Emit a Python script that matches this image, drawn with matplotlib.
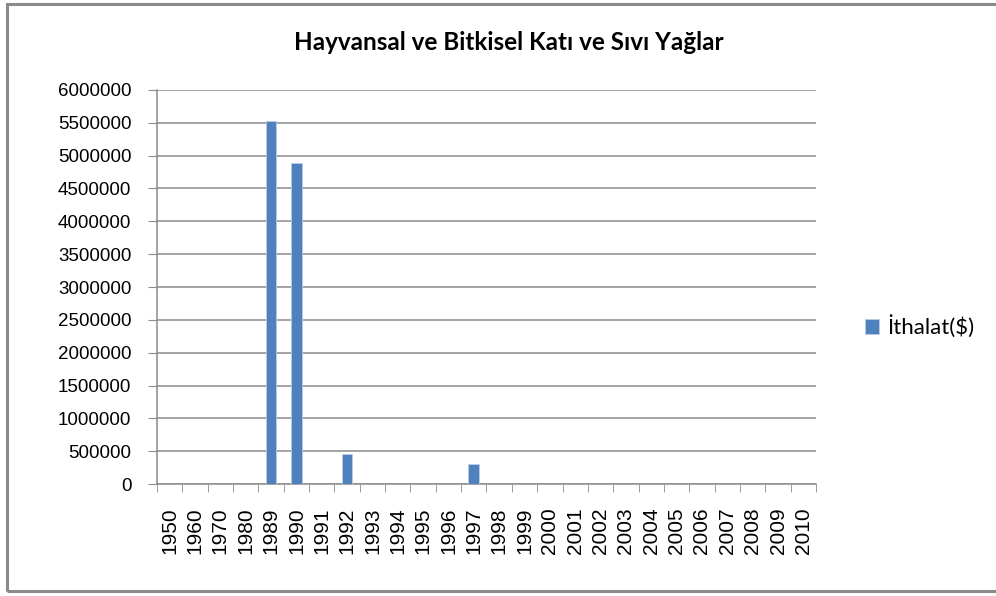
import matplotlib.pyplot as plt
from matplotlib.patches import Rectangle
import numpy as np

# Chart data
years = ["1950", "1960", "1970", "1980", "1989", "1990", "1991", "1992", "1993",
         "1994", "1995", "1996", "1997", "1998", "1999", "2000", "2001", "2002",
         "2003", "2004", "2005", "2006", "2007", "2008", "2009", "2010"]
imports = [0, 0, 0, 0, 5530000, 4890000, 0, 450000, 0,
           0, 0, 0, 300000, 0, 0, 0, 0, 0,
           0, 0, 0, 0, 0, 0, 0, 0]
y_ticks = list(range(0, 6000001, 500000))

title = "Hayvansal ve Bitkisel Katı ve Sıvı Yağlar"
series_name = "İthalat($)"

bar_color = "#4F81BD"
grid_color = "#8C8C8C"

fig = plt.figure(figsize=(9.96, 5.96), dpi=100)
ax = fig.add_axes([0.1576, 0.1879, 0.6617, 0.6611])

x = np.arange(len(years))
ax.bar(x, imports, width=0.42, color=bar_color, edgecolor="#B9CDE5",
       linewidth=0.6, label=series_name, zorder=3)

# Axes limits and ticks
ax.set_xlim(-0.5, len(years) - 0.5)
ax.set_ylim(0, 6000000)
ax.set_yticks(y_ticks)
ax.set_yticklabels([str(v) for v in y_ticks], fontfamily="Liberation Sans", fontsize=13.5)
ax.set_xticks(x)
ax.set_xticklabels(years, rotation=90, fontfamily="Liberation Sans", fontsize=15)
ax.set_xticks(np.arange(-0.5, len(years)), minor=True)
ax.tick_params(axis="x", which="major", length=0, pad=17)
ax.tick_params(axis="x", which="minor", length=6, color=grid_color, direction="out")
ax.tick_params(axis="y", length=6.5, color=grid_color, pad=12)

# Gridlines and spines
ax.yaxis.grid(True, color=grid_color, linewidth=1.1, zorder=0)
ax.set_axisbelow(True)
for side in ["top", "right"]:
    ax.spines[side].set_visible(False)
for side in ["left", "bottom"]:
    ax.spines[side].set_color(grid_color)
    ax.spines[side].set_linewidth(1.1)

# Title
fig.text(0.511, 0.928, title, ha="center", va="center",
         fontfamily="Lato", fontweight="bold", fontsize=17.5)

# Legend
fig.legend(loc="center left", bbox_to_anchor=(0.848, 0.452), frameon=False,
           handlelength=0.65, handleheight=0.65, handletextpad=0.35,
           prop={"family": "Lato", "size": 16})

# Outer border of the chart
fig.patches.append(Rectangle((0.0075, 0.008), 1.1, 0.985, transform=fig.transFigure,
                             fill=False, edgecolor="#8A8A8A", linewidth=2.2))

fig.savefig("out.png", dpi=100)
